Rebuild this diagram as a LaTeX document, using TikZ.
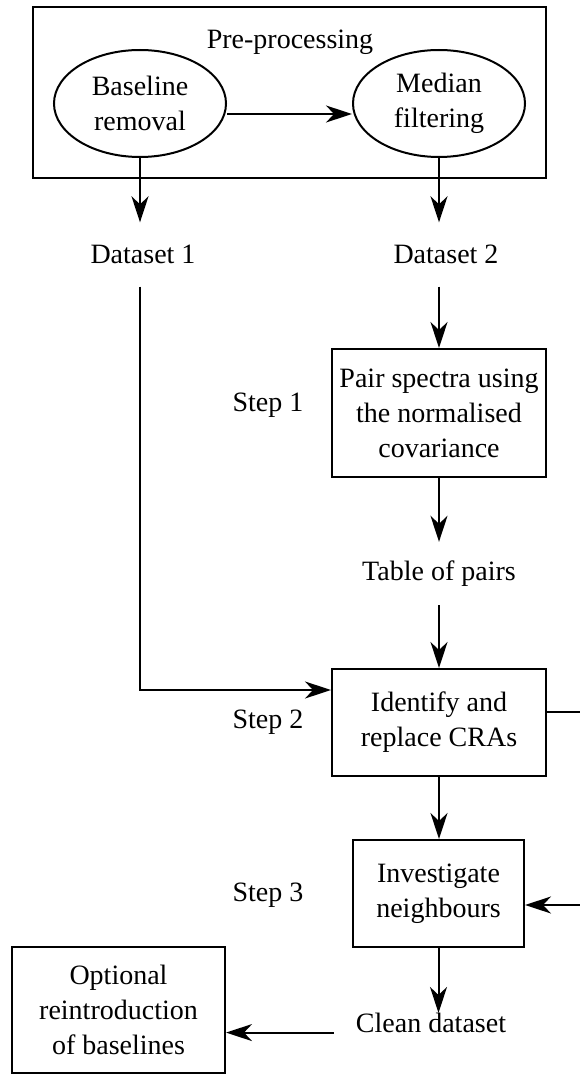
\documentclass[tikz,border=0pt]{standalone}
\usepackage{fontspec}
\setmainfont{Liberation Serif}
\usetikzlibrary{arrows.meta,shapes.geometric,calc}
\begin{document}
\begin{tikzpicture}[x=1pt,y=-1pt,
  every node/.style={font=\rmfamily\fontsize{28}{35}\selectfont},
  arr/.style={line width=2pt,-{Stealth[length=26pt,width=17pt,inset=8pt]}},
  boxnode/.style={draw,line width=2pt,rectangle,align=center,inner sep=0pt},
  oval/.style={draw,line width=2pt,ellipse,align=center,inner sep=0pt,minimum width=172pt,minimum height=107pt},
  lbl/.style={inner sep=0pt}]
\useasboundingbox (0,0) rectangle (579,1075);
% pre-processing group
\node[boxnode,minimum width=513pt,minimum height=171pt] (pre) at (289.5,92.5) {};
\node[lbl] (pt) at (290,42) {Pre-processing};
\node[oval] (e1) at (140,103.5) {Baseline\\removal};
\node[oval] (e2) at (439,103.5) {Median\\filtering};
\draw[arr] ([yshift=-10.5pt]e1.east) -- ([yshift=-10.5pt]e2.west);
% datasets
\node[lbl,minimum height=64pt] (d1) at (143,254.5) {Dataset 1};
\node[lbl,minimum height=64pt] (d2) at (446,254.5) {Dataset 2};
\draw[arr] (e1.south) -- (e1.south |- d1.north);
\draw[arr] (e2.south) -- (e2.south |- d2.north);
% step 1
\node[boxnode,minimum width=214pt,minimum height=128pt] (pair) at (439,413) {Pair spectra using\\the normalised\\covariance};
\node[lbl] (s1) at (268,405) {Step 1};
\draw[arr] (e2.south |- d2.south) -- (pair.north);
\node[lbl,minimum height=63pt] (tp) at (439,573.5) {Table of pairs};
\draw[arr] (pair.south) -- (tp.north);
% step 2
\node[boxnode,minimum width=214pt,minimum height=107pt] (id) at (439,722.5) {Identify and\\replace CRAs};
\node[lbl] (s2) at (268,722) {Step 2};
\draw[arr] (tp.south) -- (id.north);
\draw[arr] (e1.south |- d1.south) |- ([yshift=32.5pt]id.west);
% step 3
\node[boxnode,minimum width=171pt,minimum height=107pt] (inv) at (438.5,893.5) {Investigate\\neighbours};
\node[lbl] (s3) at (268,895) {Step 3};
\draw[arr] (id.south) -- (id.south |- inv.north);
\coordinate (r1) at (584,712);
\draw[arr] ([yshift=10.5pt]id.east) -- (r1) |- ([yshift=-11.5pt]inv.east);
% clean dataset
\node[inner xsep=22pt,inner ysep=0pt] (cd) at (431,1023) {Clean dataset};
\draw[arr] (inv.south) -- (inv.south |- cd.north);
\node[boxnode,minimum width=213pt,minimum height=126pt] (opt) at (118.5,1010) {Optional\\reintroduction\\of baselines};
\draw[arr] (cd.base west) -- (cd.base west -| opt.east);
\end{tikzpicture}
\end{document}
